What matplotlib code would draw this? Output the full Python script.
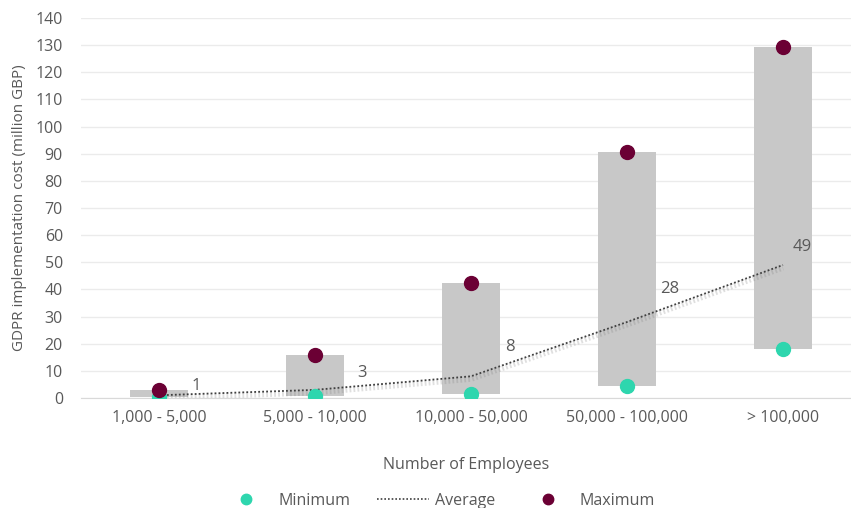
import matplotlib
matplotlib.use("Agg")
import matplotlib.pyplot as plt
import matplotlib.patheffects as pe
from matplotlib.lines import Line2D

categories = ["1,000 - 5,000", "5,000 - 10,000", "10,000 - 50,000", "50,000 - 100,000", "> 100,000"]
minimum = [0.5, 0.8, 1.3, 4.5, 18.0]
maximum = [3.0, 16.0, 42.5, 90.5, 129.5]
average = [1, 3, 8, 28, 49]
y_ticks = list(range(0, 141, 10))

plt.rcParams['font.family'] = ['Open Sans', 'DejaVu Sans']
text_color = "#595959"

fig = plt.figure(figsize=(8.51, 5.08), dpi=100)
ax = fig.add_axes([81/851, 1-398/508, 1-81/851, (398-18)/508])

x = list(range(len(categories)))
heights = [mx - mn for mn, mx in zip(minimum, maximum)]
ax.bar(x, heights, bottom=minimum, width=0.37, color="#C8C8C8", zorder=2)

ax.plot(x, average, linestyle=(0, (1, 1.2)), color="#404040", linewidth=1.3, zorder=3,
        path_effects=[pe.SimpleLineShadow(offset=(0, -2), shadow_color="#808080", alpha=0.25, linewidth=4),
                      pe.Normal()])

ax.plot(x, minimum, linestyle="none", marker="o", markersize=10, color="#2ED6AE", zorder=4)
ax.plot(x, maximum, linestyle="none", marker="o", markersize=10, color="#6B0034", zorder=5)

label_offsets = [(27, 7), (34, 12), (28, 21), (31, 24), (14, 13)]
for xi, v, off in zip(x, average, label_offsets):
    ax.annotate(str(v), (xi, v), xytext=off, textcoords="offset points",
                ha="center", va="center", fontsize=12, color=text_color, zorder=6)

ax.set_ylim(0, 140)
ax.set_xlim(-0.5, 4.436)
ax.set_yticks(y_ticks)
ax.set_xticks(x)
ax.set_xticklabels(categories)
ax.tick_params(axis="both", length=0, labelsize=11.5, colors=text_color)
ax.tick_params(axis="y", pad=13)
ax.tick_params(axis="x", pad=9)
ax.grid(axis="y", color="#EBEBEB", linewidth=1, zorder=0)
ax.set_axisbelow(True)
for s in ["top", "right", "left"]:
    ax.spines[s].set_visible(False)
ax.spines["bottom"].set_color("#D9D9D9")
ax.spines["bottom"].set_zorder(1)

ax.set_ylabel("GDPR implementation cost (million GBP)", fontsize=11, color=text_color, labelpad=6)
ax.set_xlabel("Number of Employees", fontsize=11.5, color=text_color, labelpad=22)

handles = [
    Line2D([], [], linestyle="none", marker="o", markersize=7.5, color="#2ED6AE"),
    Line2D([], [], linestyle=(0, (1, 1.2)), color="#404040", linewidth=1.2),
    Line2D([], [], linestyle="none", marker="o", markersize=7.5, color="#6B0034"),
]
fig.legend(handles, ["Minimum", "Average", "Maximum"], loc="center", bbox_to_anchor=(438/851, 1-501/508),
           ncol=3, frameon=False, fontsize=11.5, labelcolor=text_color, columnspacing=1.7,
           handlelength=3.2, handletextpad=0.4, borderpad=0)

fig.savefig("out.png", dpi=100)
